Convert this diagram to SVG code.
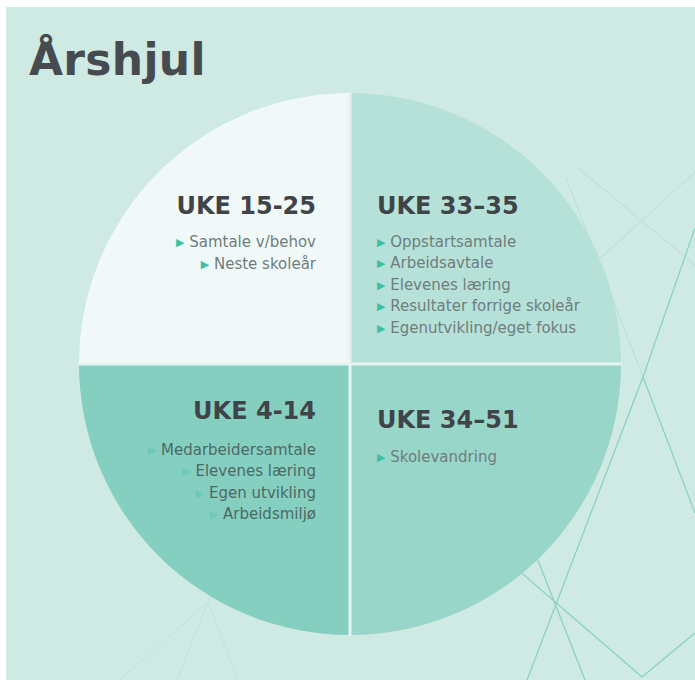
<svg xmlns="http://www.w3.org/2000/svg" width="695" height="680" viewBox="0 0 695 680">
<style>
.title{font-family:"DejaVu Sans",sans-serif;font-weight:bold;font-size:44px;fill:#464b50}
.h{font-family:"DejaVu Sans",sans-serif;font-weight:bold;font-size:24px;fill:#3e4448}
.t{font-family:"DejaVu Sans",sans-serif;font-size:15px;fill:#6f7d7d}
.t2{font-family:"DejaVu Sans",sans-serif;font-size:15px;fill:#4d6966}
.b{font-size:11px;fill:#3fbfa5}
.b2{font-size:11px;fill:#6ccab7}
.ln{stroke:#86d2c2;stroke-width:1.2;fill:none}
.lf{stroke:#b7e0d7;stroke-width:1;fill:none}
.gap{stroke:#e3f4f0;stroke-width:3}
</style>
<rect x="0" y="0" width="695" height="680" fill="#ffffff"/>
<rect x="6" y="7" width="689" height="673" fill="#cfe9e3"/>
<g id="bg-lines">
<line class="lf" x1="578" y1="168" x2="695" y2="265"/>
<line class="lf" x1="566" y1="178" x2="643" y2="377"/>
<line class="lf" x1="695" y1="172" x2="560" y2="295"/>
<line class="ln" x1="695" y1="228" x2="643" y2="377"/>
<line class="ln" x1="643" y1="377" x2="527" y2="680"/>
<line class="ln" x1="643" y1="377" x2="695" y2="513"/>
<line class="ln" x1="480" y1="537" x2="642" y2="677"/>
<line class="ln" x1="642" y1="677" x2="695" y2="633"/>
<line class="ln" x1="530" y1="540" x2="585" y2="680"/>
<line class="lf" x1="208" y1="602" x2="120" y2="680" opacity="0.6"/>
<line class="lf" x1="208" y1="602" x2="177" y2="680" opacity="0.6"/>
<line class="lf" x1="208" y1="602" x2="238" y2="680" opacity="0.6"/>
<line class="lf" x1="208" y1="602" x2="230" y2="540" opacity="0.6"/>
</g>
<text class="title" x="29" y="75" letter-spacing="0.3">Årshjul</text>
<g id="q-uke15-25">
<path d="M350,364 L79,364 A271,271 0 0 1 350,93 Z" fill="#f0f9f8"/>
<text class="h" x="316" y="214" text-anchor="end">UKE 15-25</text>
<text class="t" x="316" y="247" text-anchor="end"><tspan class="b" dy="-1">▶</tspan><tspan dy="1"> Samtale v/behov</tspan></text>
<text class="t" x="316" y="269" text-anchor="end"><tspan class="b" dy="-1">▶</tspan><tspan dy="1"> Neste skoleår</tspan></text>
</g>
<g id="q-uke33-35">
<path d="M350,364 L350,93 A271,271 0 0 1 621,364 Z" fill="#b6e1d9"/>
<text class="h" x="377" y="214">UKE 33–35</text>
<text class="t" x="377" y="247"><tspan class="b" dy="-1">▶</tspan><tspan dy="1"> Oppstartsamtale</tspan></text>
<text class="t" x="377" y="268"><tspan class="b" dy="-1">▶</tspan><tspan dy="1"> Arbeidsavtale</tspan></text>
<text class="t" x="377" y="290"><tspan class="b" dy="-1">▶</tspan><tspan dy="1"> Elevenes læring</tspan></text>
<text class="t" x="377" y="311"><tspan class="b" dy="-1">▶</tspan><tspan dy="1"> Resultater forrige skoleår</tspan></text>
<text class="t" x="377" y="333"><tspan class="b" dy="-1">▶</tspan><tspan dy="1"> Egenutvikling/eget fokus</tspan></text>
</g>
<g id="q-uke34-51">
<path d="M350,364 L621,364 A271,271 0 0 1 350,635 Z" fill="#98d6ca"/>
<text class="h" x="377" y="428">UKE 34–51</text>
<text class="t" x="377" y="462"><tspan class="b" dy="-1">▶</tspan><tspan dy="1"> Skolevandring</tspan></text>
</g>
<g id="q-uke4-14">
<path d="M350,364 L350,635 A271,271 0 0 1 79,364 Z" fill="#85cfc0"/>
<text class="h" x="316" y="419" text-anchor="end">UKE 4-14</text>
<text class="t2" x="316" y="455" text-anchor="end"><tspan class="b2" dy="-1">▶</tspan><tspan dy="1"> Medarbeidersamtale</tspan></text>
<text class="t2" x="316" y="476" text-anchor="end"><tspan class="b2" dy="-1">▶</tspan><tspan dy="1"> Elevenes læring</tspan></text>
<text class="t2" x="316" y="498" text-anchor="end"><tspan class="b2" dy="-1">▶</tspan><tspan dy="1"> Egen utvikling</tspan></text>
<text class="t2" x="316" y="519" text-anchor="end"><tspan class="b2" dy="-1">▶</tspan><tspan dy="1"> Arbeidsmiljø</tspan></text>
</g>
<g id="connectors">
<line class="gap" x1="350" y1="92" x2="350" y2="636"/>
<line class="gap" x1="78" y1="364" x2="622" y2="364"/>
</g>
</svg>
